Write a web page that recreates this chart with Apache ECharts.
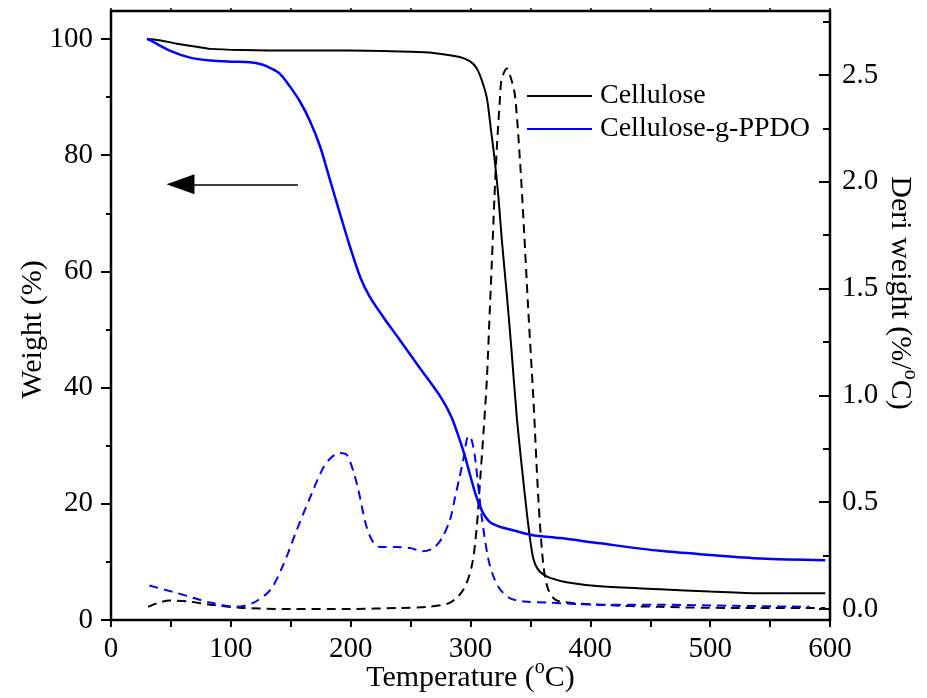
<!DOCTYPE html>
<html><head><meta charset="utf-8">
<script src="https://cdn.jsdelivr.net/npm/echarts@6/dist/echarts.min.js"></script>
<style>html,body{margin:0;padding:0;background:#fff}#c{width:927px;height:698px}</style>
</head><body><div id="c"></div>
<script>
// ---- data ----
const seriesNames = ['Cellulose', 'Cellulose-g-PPDO'];
const xTickLabels = [0, 100, 200, 300, 400, 500, 600];
const leftTickLabels = [0, 20, 40, 60, 80, 100];
const rightTickLabels = ['0.0', '0.5', '1.0', '1.5', '2.0', '2.5'];

// Cellulose weight (%) vs temperature (°C)
const celT = [30, 40, 55, 70, 83, 110, 150, 200, 250, 269, 291, 300, 305, 309.4, 313.6, 317, 320.5, 323.3, 326.1, 330.3, 334, 338.6, 343, 347, 350, 352.5, 356, 361, 367, 380, 408, 458, 500, 542, 596];
const celW = [100, 99.8, 99.2, 98.7, 98.3, 98.1, 98, 98, 97.8, 97.6, 96.9, 96.1, 95, 92.9, 89.9, 84.5, 78.6, 72.8, 65.5, 56, 47, 35, 26, 18.5, 13.5, 10.5, 8.8, 7.8, 7.2, 6.5, 5.8, 5.3, 4.9, 4.6, 4.6];

// Cellulose-g-PPDO weight (%)
const ppT = [30, 32.5, 49, 66, 83, 100, 116, 126, 133, 141, 149.4, 157.8, 166, 174.5, 182.8, 191, 199.5, 208, 216, 227, 241, 258, 275, 284, 291, 295.5, 300, 304, 308, 312, 316, 320, 325, 340, 352, 375, 408, 458, 500, 542, 596];
const ppW = [100, 99.8, 98, 96.8, 96.3, 96.1, 96, 95.6, 95, 94, 91.8, 89.2, 85.9, 81.5, 75.7, 70, 64.2, 59, 55.6, 52.2, 48.2, 43.3, 38.4, 35, 31, 28.1, 24.7, 21.8, 19.5, 17.9, 16.9, 16.4, 16.0, 15.2, 14.6, 14.1, 13.2, 11.9, 11.2, 10.6, 10.3];

// Cellulose derivative weight (%/°C)
const celDT = [31, 40, 49, 65, 83, 110, 150, 200, 241, 264, 283, 294, 301, 305, 308, 311, 313.6, 316.4, 317.8, 320, 322, 324.7, 326, 330.3, 334, 337.2, 341.4, 344.7, 348.3, 352.5, 356.7, 360.9, 365, 372, 408, 458, 520, 596];
const celD = [0.01, 0.03, 0.04, 0.035, 0.02, 0.005, 0.0, 0.0, 0.005, 0.01, 0.03, 0.09, 0.2, 0.37, 0.6, 0.84, 1.07, 1.44, 1.62, 1.93, 2.16, 2.40, 2.48, 2.53, 2.48, 2.40, 2.09, 1.77, 1.39, 0.98, 0.51, 0.2, 0.09, 0.04, 0.02, 0.01, 0.005, 0.005];

// Cellulose-g-PPDO derivative weight (%/°C)
const ppDT = [32, 45, 55, 70, 83, 105, 119, 133, 144, 155, 166, 177, 184, 191, 197, 205, 213, 219, 225, 238, 250, 260, 269, 276, 283, 287, 291, 294, 298.3, 301, 304, 309.4, 315, 320, 325, 333, 345, 366, 408, 458, 520, 583];
const ppD = [0.11, 0.09, 0.075, 0.05, 0.03, 0.01, 0.03, 0.09, 0.21, 0.37, 0.52, 0.66, 0.71, 0.73, 0.72, 0.59, 0.39, 0.31, 0.29, 0.29, 0.285, 0.27, 0.285, 0.33, 0.42, 0.52, 0.62, 0.70, 0.81, 0.79, 0.70, 0.43, 0.23, 0.14, 0.09, 0.05, 0.035, 0.03, 0.02, 0.02, 0.015, 0.01];

// arrow annotation (pointing to the left axis), data coordinates
const arrowFrom = [156, 75];
const arrowTo = [58, 75];

// ---- chart ----
const FONT = '"Liberation Serif", "Times New Roman", serif';
const zip = (a, b) => a.map((v, i) => [v, b[i]]);
const L = 111, R = 97;
const TICK = {color: '#000', width: 2};
const G = {left: L, right: R, containLabel: false, outerBoundsMode: 'none'};

const chart = echarts.init(document.getElementById('c'), null, {renderer: 'canvas'});
chart.setOption({
  animation: false,
  backgroundColor: '#fff',
  grid: [
    Object.assign({top: 11, bottom: 78, show: true, borderColor: '#000', borderWidth: 2.5, backgroundColor: 'transparent'}, G),
    Object.assign({top: 39, bottom: 78}, G),
    Object.assign({top: 21.6, bottom: 89}, G),
    Object.assign({top: 75, bottom: 89}, G)
  ],
  legend: {
    data: seriesNames,
    orient: 'vertical', left: 527, top: 81, padding: 0, itemGap: 3,
    itemWidth: 65, itemHeight: 2, icon: 'rect',
    selectedMode: false,
    textStyle: {fontFamily: FONT, fontSize: 28, color: '#000', lineHeight: 30, padding: [0, 0, 0, 3]}
  },
  xAxis: [
    {gridIndex: 0, type: 'value', position: 'top', min: 0, max: 600, interval: 50,
     axisLine: {show: false, onZero: false}, axisLabel: {show: false}, splitLine: {show: false},
     axisTick: {show: true, inside: false, length: 3, lineStyle: {color: '#000', width: 1.5}}},
    {gridIndex: 1, type: 'value', position: 'bottom', min: 0, max: 600, interval: 100,
     axisLine: {show: false, onZero: false}, splitLine: {show: false},
     axisTick: {show: true, inside: false, length: 7, lineStyle: TICK},
     minorTick: {show: true, splitNumber: 2, length: 7, lineStyle: TICK},
     axisLabel: {fontFamily: FONT, fontSize: 29, color: '#000', margin: 15,
                 formatter: v => xTickLabels.includes(v) ? String(v) : ''},
     name: 'Temperature ({sup|o}C)', nameLocation: 'middle', nameGap: 38, nameMoveOverlap: false,
     nameTextStyle: {fontFamily: FONT, fontSize: 30, color: '#000', lineHeight: 40,
       rich: {sup: {fontFamily: FONT, fontSize: 20, lineHeight: 20, color: '#000', verticalAlign: 'top'}}}},
    {gridIndex: 2, type: 'value', min: 0, max: 600, show: false},
    {gridIndex: 3, type: 'value', min: 0, max: 600, show: false}
  ],
  yAxis: [
    {gridIndex: 0, type: 'value', min: 0, max: 1, show: false},
    {gridIndex: 1, type: 'value', position: 'left', min: 0, max: 100, interval: 20,
     axisLine: {show: false, onZero: false}, splitLine: {show: false},
     axisTick: {show: true, inside: false, length: 10, lineStyle: TICK},
     minorTick: {show: true, splitNumber: 2, length: 5, lineStyle: TICK},
     axisLabel: {fontFamily: FONT, fontSize: 29, color: '#000', margin: 18,
                 formatter: v => leftTickLabels.includes(v) ? String(v) : ''},
     name: 'Weight (%)', nameLocation: 'middle', nameGap: 63, nameMoveOverlap: false,
     nameTextStyle: {fontFamily: FONT, fontSize: 30, color: '#000'}},
    {gridIndex: 2, type: 'value', position: 'right', min: 0, max: 2.75, interval: 0.25,
     axisLine: {show: false, onZero: false}, splitLine: {show: false}, axisLabel: {show: false},
     axisTick: {show: true, inside: true, length: 7, lineStyle: TICK}},
    {gridIndex: 3, type: 'value', position: 'right', min: 0, max: 2.5, interval: 0.5,
     axisLine: {show: false, onZero: false}, splitLine: {show: false},
     axisTick: {show: true, inside: true, length: 11, lineStyle: TICK},
     axisLabel: {fontFamily: FONT, fontSize: 29, color: '#000', margin: 12,
                 formatter: v => rightTickLabels[Math.round(v * 2)]},
     name: 'Deri weight (%/{sup|o}C)', nameLocation: 'middle', nameGap: 50, nameRotate: -90, nameMoveOverlap: false,
     nameTextStyle: {fontFamily: FONT, fontSize: 30, color: '#000', lineHeight: 40, padding: [0, 98, 0, 0],
       rich: {sup: {fontFamily: FONT, fontSize: 20, lineHeight: 20, color: '#000', verticalAlign: 'top'}}}}
  ],
  series: [
    {name: seriesNames[0], type: 'line', xAxisIndex: 1, yAxisIndex: 1, data: zip(celT, celW),
     symbol: 'none', smooth: 0.3, clip: false, z: 3,
     lineStyle: {color: '#000', width: 2}, itemStyle: {color: '#000'},
     markLine: {silent: true, symbol: ['none', 'triangle'], symbolSize: [20, 28],
       label: {show: false}, emphasis: {disabled: true},
       lineStyle: {color: '#000', width: 1.5, type: 'solid'},
       data: [[{coord: arrowFrom}, {coord: arrowTo}]]}},
    {name: seriesNames[1], type: 'line', xAxisIndex: 1, yAxisIndex: 1, data: zip(ppT, ppW),
     symbol: 'none', smooth: 0.3, clip: false, z: 3,
     lineStyle: {color: '#0000ff', width: 2.5}, itemStyle: {color: '#0000ff'}},
    {name: 'Cellulose DTG', type: 'line', xAxisIndex: 2, yAxisIndex: 2, data: zip(celDT, celD),
     symbol: 'none', smooth: 0.3, clip: false, z: 2,
     lineStyle: {color: '#000', width: 2, type: [9, 6]}, itemStyle: {color: '#000'}},
    {name: 'Cellulose-g-PPDO DTG', type: 'line', xAxisIndex: 2, yAxisIndex: 2, data: zip(ppDT, ppD),
     symbol: 'none', smooth: 0.3, clip: false, z: 2,
     lineStyle: {color: '#0000ff', width: 2, type: [9, 6]}, itemStyle: {color: '#0000ff'}}
  ]
});
</script>
</body></html>
